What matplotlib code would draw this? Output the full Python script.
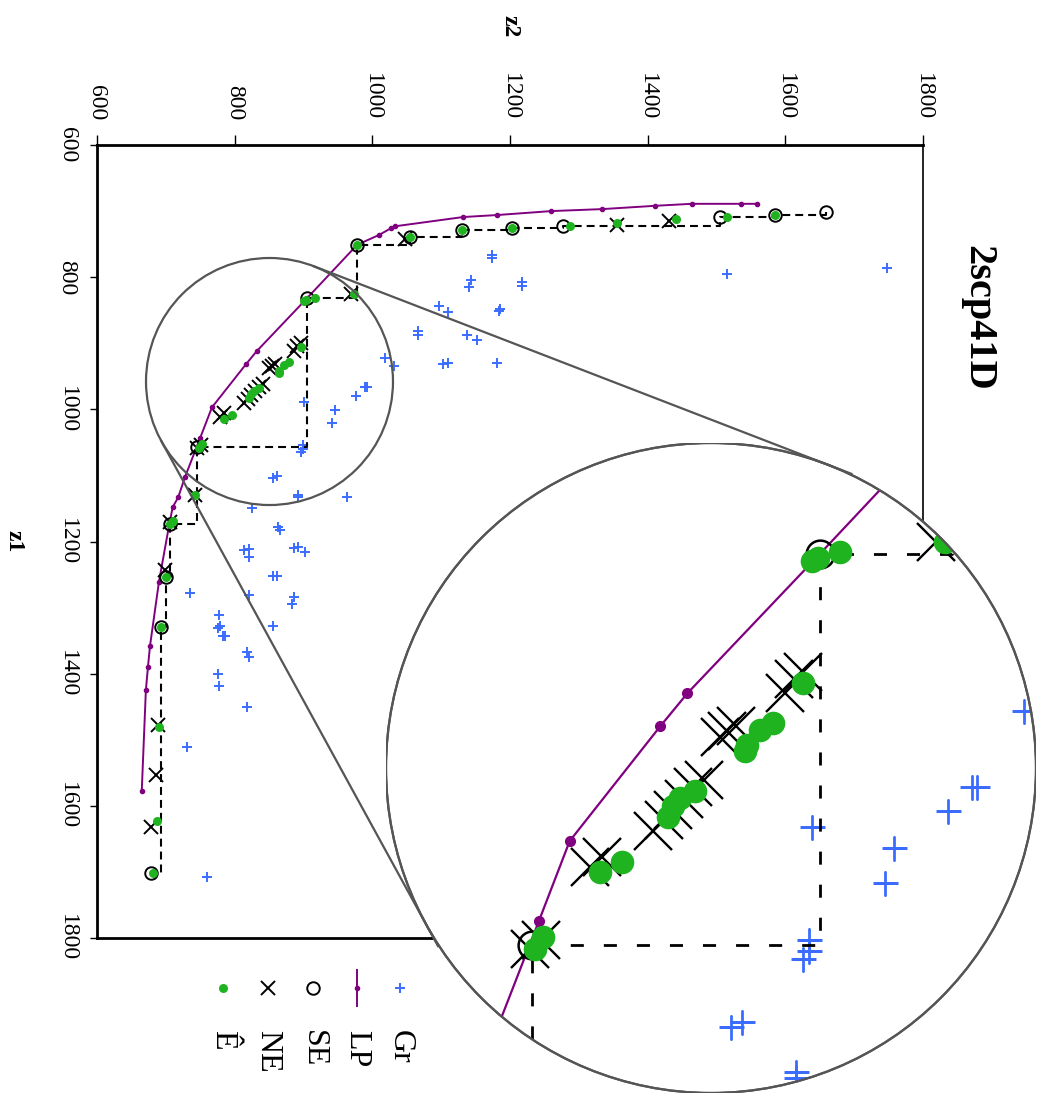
import numpy as np
import matplotlib.pyplot as plt
from matplotlib.patches import Circle, Ellipse
from matplotlib.lines import Line2D
from matplotlib.transforms import IdentityTransform

plt.rcParams['font.family'] = ['Liberation Serif', 'DejaVu Serif']

# ---- data (z2 is drawn left->right, z1 top->bottom) ----
gr_z2 = [1174, 1174, 1143, 1140, 1217, 1217, 1097, 1110, 1186, 1184,
         1066, 1066, 1138, 1152, 1103, 1110, 1181, 1515, 1748, 1018,
         1032, 989, 992, 976, 901, 946, 941, 899, 899, 896,
         856, 862, 892, 892, 963, 825, 863, 866, 814, 821,
         821, 886, 892, 902, 856, 862, 735, 821, 886, 883,
         777, 779, 776, 783, 786, 856, 818, 821, 776, 777,
         818, 731, 760]
gr_z1 = [767, 771, 804, 815, 807, 813, 844, 853, 848, 851,
         882, 888, 888, 895, 931, 930, 930, 795, 786, 922,
         934, 966, 966, 980, 989, 1001, 1021, 1054, 1060, 1065,
         1104, 1101, 1133, 1130, 1133, 1149, 1178, 1183, 1213, 1211,
         1224, 1210, 1208, 1216, 1252, 1252, 1278, 1281, 1284, 1295,
         1311, 1328, 1331, 1343, 1343, 1328, 1367, 1375, 1401, 1419,
         1450, 1511, 1708]

lp_z2 = [1559, 1536, 1464, 1411, 1334, 1260, 1181, 1132, 1033, 1027, 1010, 978, 905,
         832, 817, 767, 750, 728, 718, 710, 705, 690, 677, 674, 671, 665]
lp_z1 = [689, 689, 689, 692, 697, 700, 706, 709, 723, 726, 736, 751, 832,
         912, 931, 997, 1043, 1102, 1133, 1148, 1174, 1261, 1358, 1390, 1425, 1578]

se_z2 = [1659, 1585, 1505, 1277, 1203, 1130, 1055, 978, 905, 746, 706, 700, 693, 679]
se_z1 = [701, 706, 709, 723, 726, 729, 739, 751, 832, 1057, 1174, 1254, 1329, 1702]

ne_z2 = [1431, 1355, 1048, 969, 896, 891, 886, 859, 854, 850, 841, 835, 830,
         824, 819, 813, 785, 778, 751, 745, 742, 706, 699, 689, 686, 679]
ne_z1 = [715, 721, 742, 825, 900, 904, 912, 931, 934, 937, 962, 966, 973,
         979, 985, 991, 1006, 1012, 1054, 1059, 1130, 1171, 1243, 1478, 1553, 1632]

e_z2 = [1585, 1515, 1441, 1355, 1287, 1203, 1130, 1055, 978, 974,
        916, 904, 901, 896, 879, 872, 865, 864, 836, 828,
        824, 821, 796, 784, 752, 748, 742, 706, 711, 700,
        693, 690, 687, 681]
e_z1 = [706, 709, 712, 718, 723, 726, 729, 739, 751, 825,
        831, 834, 836, 906, 929, 933, 942, 945, 968, 972,
        977, 983, 1009, 1015, 1052, 1059, 1130, 1173, 1169, 1254,
        1329, 1481, 1623, 1702]

ticks = [600, 800, 1000, 1200, 1400, 1600, 1800]
legend_labels = ['Gr', 'LP', 'SE', 'NE', 'Ê']

BLUE = '#3b6cff'
PURPLE = '#800080'
GREEN = '#1fb41f'
GRAY = '#555555'

W, H = 1042, 1095
fig = plt.figure(figsize=(W / 100, H / 100), dpi=100)

# main axes
ax = fig.add_axes([97 / W, 1 - 938 / H, 826 / W, 793 / H])
ax.set_xlim(600, 1800)
ax.set_ylim(1800, 600)


def draw(a, big):
    if big:
        st = dict(gr=18, grw=2.0, lpw=1.6, lpm=7, stw=2.0, dash=(4.7, 7.2),
                  se=20, sew=1.8, ne=27, new=1.7, e=17)
    else:
        st = dict(gr=7, grw=1.4, lpw=1.4, lpm=3, stw=1.5, dash=(3.8, 2.4),
                  se=9, sew=1.4, ne=10, new=1.4, e=6.5)
    out = []
    out += a.plot(gr_z2, gr_z1, ls='none', marker='+', ms=st['gr'],
                  mew=st['grw'], color=BLUE)
    out += a.plot(lp_z2, lp_z1, '-', color=PURPLE, lw=st['lpw'],
                  marker='o', ms=st['lpm'], mec=PURPLE)
    out += a.plot(se_z2, se_z1, color='black', lw=st['stw'],
                  drawstyle='steps-pre', dashes=st['dash'])
    out += a.plot(se_z2, se_z1, ls='none', marker='o', ms=st['se'],
                  mfc='none', mec='black', mew=st['sew'])
    out += a.plot(ne_z2, ne_z1, ls='none', marker='x', ms=st['ne'],
                  mew=st['new'], color='black')
    out += a.plot(e_z2, e_z1, ls='none', marker='o', ms=st['e'],
                  color=GREEN, mec='none')
    return out


draw(ax, False)

ax.set_xticks(ticks, labels=[str(t) for t in ticks], rotation=-90,
              va='bottom', ha='center')
ax.set_yticks(ticks, labels=[str(t) for t in ticks], rotation=-90,
              va='center', ha='right')
ax.xaxis.tick_top()
ax.tick_params(axis='x', direction='out', length=7, width=1,
               labelsize=17, pad=11)
ax.tick_params(axis='y', direction='out', length=5, width=1,
               labelsize=17, pad=9)
for side, lw in [('left', 2), ('top', 2), ('bottom', 2), ('right', 1.2)]:
    ax.spines[side].set_linewidth(lw)

# zoom region on the main plot
zoom_c = (850.6, 957.9)
zoom_r = (179.4, 186.9)
ax.add_patch(Ellipse(zoom_c, 2 * zoom_r[0], 2 * zoom_r[1], fill=False,
                     ec=GRAY, lw=1.6, zorder=5))

# magnified inset
ax_in = fig.add_axes([(711 - 325) / W, 1 - (768 + 325) / H, 650 / W, 650 / H])
in_c = (845, 955)
ax_in.set_xlim(in_c[0] - zoom_r[0], in_c[0] + zoom_r[0])
ax_in.set_ylim(in_c[1] + zoom_r[1], in_c[1] - zoom_r[1])
ax_in.axis('off')
ax_in.patch.set_visible(False)
disk = Circle((0.5, 0.5), 0.5, transform=ax_in.transAxes, fc='white',
              ec=GRAY, lw=1.6, zorder=0)
ax_in.add_patch(disk)
for ln in draw(ax_in, True):
    ln.set_clip_path(disk)
rim = Circle((0.5, 0.5), 0.5, transform=ax_in.transAxes, fill=False,
             ec=GRAY, lw=1.6, zorder=10)
ax_in.add_patch(rim)

# connecting tangent lines
c1 = ax.transData.transform(zoom_c)
r1 = ax.transData.transform((zoom_c[0] + zoom_r[0], zoom_c[1]))[0] - c1[0]
c2 = ax_in.transAxes.transform((0.5, 0.5))
r2 = ax_in.transAxes.transform((1.0, 0.5))[0] - c2[0]
d = c2 - c1
dist = np.hypot(*d)
u = d / dist
cos_t = (r1 - r2) / dist
sin_t = np.sqrt(1 - cos_t ** 2)
for s in (1, -1):
    n = np.array([u[0] * cos_t - s * u[1] * sin_t,
                  u[1] * cos_t + s * u[0] * sin_t])
    p1 = c1 + r1 * n
    p2 = c2 + r2 * n
    dirv = (p2 - p1) / np.hypot(*(p2 - p1))
    p3 = p2 + 25 * dirv
    fig.add_artist(Line2D([p1[0], p3[0]], [p1[1], p3[1]], color=GRAY,
                          lw=1.6, transform=IdentityTransform(), zorder=3))

# texts
fig.text(978 / W, 1 - 318 / H, '2scp41D', rotation=-90, fontsize=29,
         fontweight='bold', ha='center', va='center')
fig.text(14 / W, 1 - 541 / H, 'z1', rotation=-90, fontsize=17,
         fontweight='bold', ha='center', va='center')
fig.text(510 / W, 1 - 26 / H, 'z2', rotation=-90, fontsize=17,
         fontweight='bold', ha='center', va='center')

# legend (drawn by hand, rotated)
leg_x = [400, 357, 313, 268, 223]
my = 1 - 988 / H
tr = fig.transFigure
fig.add_artist(Line2D([leg_x[0] / W], [my], ls='none', marker='+', ms=7,
                      mew=1.4, color=BLUE, transform=tr))
fig.add_artist(Line2D([leg_x[1] / W] * 2, [1 - 970 / H, 1 - 1006 / H],
                      color=PURPLE, lw=1.4, transform=tr))
fig.add_artist(Line2D([leg_x[1] / W], [my], ls='none', marker='o', ms=3,
                      color=PURPLE, transform=tr))
fig.add_artist(Line2D([leg_x[2] / W], [my], ls='none', marker='o', ms=9,
                      mfc='none', mec='black', mew=1.4, transform=tr))
fig.add_artist(Line2D([leg_x[3] / W], [my], ls='none', marker='x', ms=10,
                      mew=1.4, color='black', transform=tr))
fig.add_artist(Line2D([leg_x[4] / W], [my], ls='none', marker='o', ms=6.5,
                      color=GREEN, mec='none', transform=tr))
for x, lab in zip(leg_x, legend_labels):
    fig.text(x / W, 1 - 1030 / H, lab, rotation=-90, fontsize=23,
             ha='center', va='top')

fig.savefig('out.png', dpi=100)
